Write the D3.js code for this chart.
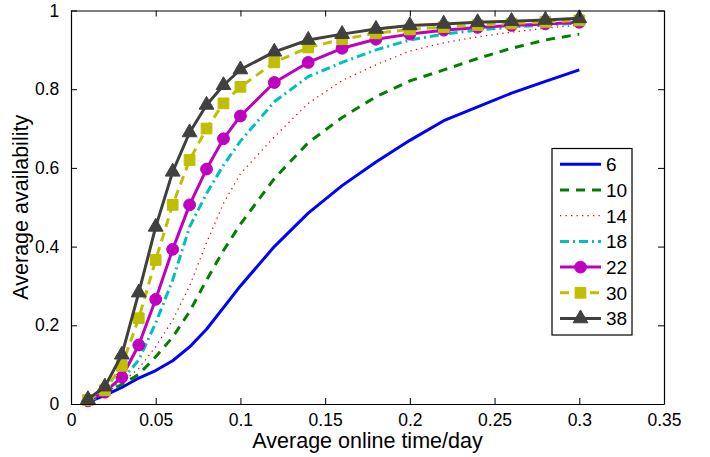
<!DOCTYPE html>
<html><head><meta charset="utf-8">
<script src="https://cdn.jsdelivr.net/npm/d3@7"></script>
<style>body{margin:0;background:#fff}svg{display:block}text{font-family:"Liberation Sans",Arial,Helvetica,sans-serif}</style>
</head><body><svg id="c" width="710" height="457"></svg>
<script>
const xValues = [0.01,0.02,0.03,0.04,0.05,0.06,0.07,0.08,0.09,0.1,0.12,0.14,0.16,0.18,0.2,0.22,0.24,0.26,0.28,0.3];
const s6  = [0.005,0.022,0.042,0.066,0.085,0.11,0.145,0.19,0.245,0.30,0.40,0.485,0.555,0.615,0.67,0.72,0.755,0.79,0.82,0.849];
const s10 = [0.005,0.025,0.05,0.075,0.12,0.17,0.235,0.315,0.39,0.457,0.573,0.664,0.728,0.781,0.821,0.849,0.878,0.904,0.925,0.94];
const s14 = [0.005,0.026,0.055,0.09,0.146,0.213,0.30,0.41,0.51,0.585,0.679,0.764,0.822,0.862,0.897,0.918,0.933,0.945,0.955,0.963];
const s18 = [0.005,0.028,0.06,0.112,0.206,0.315,0.45,0.535,0.607,0.668,0.768,0.832,0.868,0.9,0.925,0.94,0.95,0.958,0.963,0.968];
const s22 = [0.008,0.03,0.068,0.15,0.266,0.393,0.506,0.597,0.674,0.732,0.817,0.868,0.904,0.927,0.94,0.95,0.957,0.962,0.966,0.97];
const s30 = [0.01,0.035,0.097,0.218,0.366,0.506,0.62,0.70,0.764,0.806,0.868,0.906,0.927,0.942,0.952,0.958,0.963,0.967,0.971,0.975];
const s38 = [0.012,0.044,0.125,0.283,0.45,0.59,0.69,0.76,0.81,0.85,0.895,0.925,0.94,0.953,0.962,0.966,0.97,0.973,0.976,0.98];
const seriesNames = ["6","10","14","18","22","30","38"];
const seriesValues = [s6,s10,s14,s18,s22,s30,s38];
const xTicks = [0,0.05,0.1,0.15,0.2,0.25,0.3,0.35];
const xTickLabels = ["0","0.05","0.1","0.15","0.2","0.25","0.3","0.35"];
const yTicks = [0,0.2,0.4,0.6,0.8,1];
const yTickLabels = ["0","0.2","0.4","0.6","0.8","1"];

const styles = [
  {color:"#0000FF", width:3, dash:null, marker:null},
  {color:"#008000", width:3, dash:"9,7", marker:null},
  {color:"#FF0000", width:1.3, dash:"1.3,4.2", marker:null},
  {color:"#00BFBF", width:3, dash:"9,4,2,4", marker:null},
  {color:"#BF00BF", width:3, dash:null, marker:d3.symbolCircle, msize:110},
  {color:"#BFBF00", width:3, dash:"9,6", marker:d3.symbolSquare, msize:115},
  {color:"#404040", width:3, dash:null, marker:d3.symbolTriangle, msize:95}
];

const L=71, R=664, T=10.5, B=404;
const svg = d3.select("#c");
const x = d3.scaleLinear().domain([0,0.35]).range([L,R]);
const y = d3.scaleLinear().domain([0,1]).range([B,T]);

const plot = svg.append("g");
seriesValues.forEach((vals,i)=>{
  const st = styles[i];
  const pts = vals.map((v,j)=>[xValues[j],v]);
  const line = d3.line().x(d=>x(d[0])).y(d=>y(d[1]));
  plot.append("path").attr("d",line(pts)).attr("fill","none")
    .attr("stroke",st.color).attr("stroke-width",st.width)
    .attr("stroke-dasharray",st.dash).attr("stroke-linejoin","round");
  if(st.marker){
    plot.selectAll(null).data(pts).enter().append("path")
      .attr("d",d3.symbol().type(st.marker).size(st.msize))
      .attr("transform",d=>`translate(${x(d[0])},${y(d[1])})`)
      .attr("fill",st.color).attr("stroke",st.color).attr("stroke-width",1);
  }
});

// axes
const fs = 17.5;
const xAxisB = d3.axisBottom(x).tickValues(xTicks).tickFormat((d,i)=>xTickLabels[i]).tickSizeInner(-6).tickSizeOuter(0).tickPadding(10);
const gx = svg.append("g").attr("transform",`translate(0,${B})`).call(xAxisB);
const xAxisT = d3.axisTop(x).tickValues(xTicks).tickFormat("").tickSizeInner(-6).tickSizeOuter(0);
const gxt = svg.append("g").attr("transform",`translate(0,${T})`).call(xAxisT);
const yAxisL = d3.axisLeft(y).tickValues(yTicks).tickFormat((d,i)=>yTickLabels[i]).tickSizeInner(-6).tickSizeOuter(0).tickPadding(10);
const gy = svg.append("g").attr("transform",`translate(${L},0)`).call(yAxisL);
const yAxisR = d3.axisRight(y).tickValues(yTicks).tickFormat("").tickSizeInner(-6).tickSizeOuter(0);
const gyr = svg.append("g").attr("transform",`translate(${R},0)`).call(yAxisR);
[gx,gxt,gy,gyr].forEach(g=>{
  g.selectAll("path.domain").attr("stroke","#000").attr("stroke-width",1.2);
  g.selectAll("line").attr("stroke","#000").attr("stroke-width",1);
  g.selectAll("text").attr("font-size",fs).attr("fill","#000")
    .style("font-family",'"Liberation Sans",Arial,sans-serif');
});
gy.selectAll("text").attr("dx","-0.1em");

svg.append("text").attr("x",(L+R)/2).attr("y",448).attr("text-anchor","middle")
  .attr("font-size",21.5).text("Average online time/day");
svg.append("text").attr("transform",`translate(28,${(T+B)/2}) rotate(-90)`).attr("text-anchor","middle")
  .attr("font-size",21.5).text("Average availability");

// legend
const lg = svg.append("g");
lg.append("rect").attr("x",552).attr("y",148.5).attr("width",80).attr("height",186.5)
  .attr("fill","#fff").attr("stroke","#000").attr("stroke-width",1.2);
seriesNames.forEach((n,i)=>{
  const st = styles[i];
  const yy = 164.3 + i*25.7;
  lg.append("line").attr("x1",560).attr("x2",601).attr("y1",yy).attr("y2",yy)
    .attr("stroke",st.color).attr("stroke-width",st.width).attr("stroke-dasharray",st.dash);
  if(st.marker){
    lg.append("path").attr("d",d3.symbol().type(st.marker).size(st.msize))
      .attr("transform",`translate(580.5,${yy})`).attr("fill",st.color).attr("stroke",st.color);
  }
  lg.append("text").attr("x",606).attr("y",yy).attr("dy","0.36em").attr("font-size",19).text(n);
});
</script></body></html>
